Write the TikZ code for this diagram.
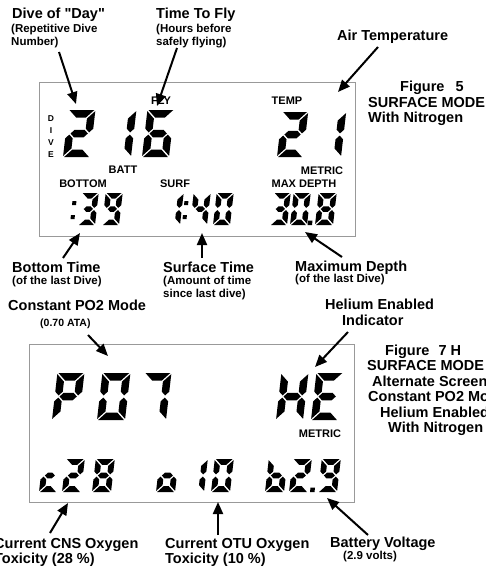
\documentclass[tikz,border=0pt]{standalone}
\usepackage{fontspec}
\setmainfont{Liberation Sans}[Ligatures=TeXOff]
\usetikzlibrary{arrows.meta}

% segments (local coordinates, y up): W width, H height, T thickness, h=T/2, m=H/2, G gap
\newcommand{\lcdsA}{\fill (\lcdG,\lcdH) -- (\lcdW-\lcdG,\lcdH) -- (\lcdW-\lcdT-\lcdG,\lcdH-\lcdT) -- (\lcdT+\lcdG,\lcdH-\lcdT) -- cycle;}
\newcommand{\lcdsD}{\fill (\lcdG,0) -- (\lcdW-\lcdG,0) -- (\lcdW-\lcdT-\lcdG,\lcdT) -- (\lcdT+\lcdG,\lcdT) -- cycle;}
\newcommand{\lcdsF}{\fill (0,\lcdH-\lcdG) -- (\lcdT,\lcdH-\lcdT-\lcdG) -- (\lcdT,\lcdM+\lcdh+\lcdG) -- (\lcdh,\lcdM+\lcdG) -- (0,\lcdM+\lcdh+\lcdG) -- cycle;}
\newcommand{\lcdsB}{\fill (\lcdW,\lcdH-\lcdG) -- (\lcdW-\lcdT,\lcdH-\lcdT-\lcdG) -- (\lcdW-\lcdT,\lcdM+\lcdh+\lcdG) -- (\lcdW-\lcdh,\lcdM+\lcdG) -- (\lcdW,\lcdM+\lcdh+\lcdG) -- cycle;}
\newcommand{\lcdsE}{\fill (0,\lcdG) -- (\lcdT,\lcdT+\lcdG) -- (\lcdT,\lcdM-\lcdh-\lcdG) -- (\lcdh,\lcdM-\lcdG) -- (0,\lcdM-\lcdh-\lcdG) -- cycle;}
\newcommand{\lcdsC}{\fill (\lcdW,\lcdG) -- (\lcdW-\lcdT,\lcdT+\lcdG) -- (\lcdW-\lcdT,\lcdM-\lcdh-\lcdG) -- (\lcdW-\lcdh,\lcdM-\lcdG) -- (\lcdW,\lcdM-\lcdh-\lcdG) -- cycle;}
\newcommand{\lcdsG}{\fill (\lcdh+\lcdG,\lcdM) -- (\lcdT+\lcdG,\lcdM+\lcdh) -- (\lcdW-\lcdT-\lcdG,\lcdM+\lcdh) -- (\lcdW-\lcdh-\lcdG,\lcdM) -- (\lcdW-\lcdT-\lcdG,\lcdM-\lcdh) -- (\lcdT+\lcdG,\lcdM-\lcdh) -- cycle;}
\newcommand{\lcdZero}{\lcdsA\lcdsB\lcdsC\lcdsD\lcdsE\lcdsF}
\newcommand{\lcdOne}{\lcdsB\lcdsC}
\newcommand{\lcdTwo}{\lcdsA\lcdsB\lcdsD\lcdsE\lcdsG}
\newcommand{\lcdThree}{\lcdsA\lcdsB\lcdsC\lcdsD\lcdsG}
\newcommand{\lcdFour}{\lcdsB\lcdsC\lcdsF\lcdsG}
\newcommand{\lcdSix}{\lcdsA\lcdsC\lcdsD\lcdsE\lcdsF\lcdsG}
\newcommand{\lcdSeven}{\lcdsA\lcdsB\lcdsC}
\newcommand{\lcdEight}{\lcdsA\lcdsB\lcdsC\lcdsD\lcdsE\lcdsF\lcdsG}
\newcommand{\lcdNine}{\lcdsA\lcdsB\lcdsC\lcdsD\lcdsF\lcdsG}
\newcommand{\lcdLetP}{\lcdsA\lcdsB\lcdsE\lcdsF\lcdsG}
\newcommand{\lcdLetH}{\lcdsB\lcdsC\lcdsE\lcdsF\lcdsG}
\newcommand{\lcdLetE}{\lcdsA\lcdsD\lcdsE\lcdsF\lcdsG}
\newcommand{\lcdLetc}{\lcdsD\lcdsE\lcdsG}
\newcommand{\lcdLeto}{\lcdsC\lcdsD\lcdsE\lcdsG}
\newcommand{\lcdLetb}{\lcdsC\lcdsD\lcdsE\lcdsF\lcdsG}
% #1 x (bottom-left), #2 y (baseline), #3 width, #4 height, #5 thickness, #6 segments
\newcommand{\lcddigit}[6]{%
 \begin{scope}[shift={(#1,#2)},xslant=0.115,yscale=-1]
 \pgfmathsetmacro\lcdW{#3}
 \pgfmathsetmacro\lcdH{#4}
 \pgfmathsetmacro\lcdT{#5}
 \pgfmathsetmacro\lcdh{#5/2}
 \pgfmathsetmacro\lcdM{#4/2}
 \def\lcdG{1.1}
 #6
 \end{scope}}
\newcommand{\lcddot}[3]{%
 \begin{scope}[shift={(#1,#2)},xslant=0.115,yscale=-1]
 \fill (0,0) rectangle (#3,#3);
 \end{scope}}

\begin{document}
\begin{tikzpicture}[x=1pt,y=-1pt,
  lbl/.style={font=\fontsize{14.5}{15}\selectfont\bfseries, inner sep=0pt, anchor=base west},
  sub/.style={font=\fontsize{11.5}{12}\selectfont\bfseries, inner sep=0pt, anchor=base west},
  smallsub/.style={font=\fontsize{10.5}{11}\selectfont\bfseries, inner sep=0pt, anchor=base west},
  lcdlbl/.style={font=\fontsize{11}{11}\selectfont\bfseries, inner sep=0pt, anchor=base},
  divelbl/.style={font=\fontsize{8.5}{9}\selectfont\bfseries, inner sep=0pt, anchor=base},
  arr/.style={line width=2pt, -{Triangle[length=12pt,width=10pt]}},
  lcdbox/.style={draw=black!40, line width=1pt}]
\useasboundingbox (0,0) rectangle (485,568);
\clip (0,0) rectangle (485,568);
\fill[white] (0,0) rectangle (485,568);

% LCD frames
\draw[lcdbox] (39,82) rectangle (355,236);
\draw[lcdbox] (29,344) rectangle (354,502);

% ---- Figure 5 display ----
\node[lcdlbl] (lfly) at (161,104) {FLY};
\node[lcdlbl] (ltemp) at (287,104) {TEMP};
\node[divelbl] (ld) at (51,121) {D};
\node[divelbl] (li) at (51,133) {I};
\node[divelbl] (lv) at (51,145) {V};
\node[divelbl] (le) at (51,157) {E};
\node[lcdlbl] (lbatt) at (123,173) {BATT};
\node[lcdlbl] (lbot) at (83,187) {BOTTOM};
\node[lcdlbl] (lsurf) at (175,187) {SURF};
\node[lcdlbl] (lmet) at (322,174) {METRIC};
\node[lcdlbl] (lmax) at (304,187) {MAX DEPTH};

\lcddigit{63}{157}{27}{47}{7.5}{\lcdTwo}
\lcddigit{104}{157}{27}{47}{7.5}{\lcdOne}
\lcddigit{142}{157}{27}{47}{7.5}{\lcdSix}
\lcddigit{277}{157}{26}{45}{7.5}{\lcdTwo}
\lcddigit{315}{157}{26}{45}{7.5}{\lcdOne}

\lcddot{70.5}{219}{4}
\lcddot{72}{205}{4}
\lcddigit{78}{225}{17}{32}{5.5}{\lcdThree}
\lcddigit{102}{225}{17}{32}{5.5}{\lcdNine}
\lcddigit{163}{225}{17}{32}{5.5}{\lcdOne}
\lcddot{182.5}{219}{4}
\lcddot{184}{205}{4}
\lcddigit{190}{225}{17}{32}{5.5}{\lcdFour}
\lcddigit{213}{225}{17}{32}{5.5}{\lcdZero}
\lcddigit{270}{225}{17}{32}{5.5}{\lcdThree}
\lcddigit{290}{225}{17}{32}{5.5}{\lcdZero}
\lcddot{307.5}{225}{4.5}
\lcddigit{315}{225}{18}{32}{5.5}{\lcdEight}

% ---- Figure 7 H display ----
\node[lcdlbl] (lmet2) at (320,437) {METRIC};
\lcddigit{52}{420}{27}{47}{7.5}{\lcdLetP}
\lcddigit{97}{420}{28}{47}{7.5}{\lcdZero}
\lcddigit{139}{420}{27}{47}{7.5}{\lcdSeven}
\lcddigit{276}{420}{27}{47}{7.5}{\lcdLetH}
\lcddigit{311}{420}{27}{47}{7.5}{\lcdLetE}

\lcddigit{39}{492}{18}{33}{5.8}{\lcdLetc}
\lcddigit{62}{492}{19}{33}{5.8}{\lcdTwo}
\lcddigit{92}{492}{19}{33}{5.8}{\lcdEight}
\lcddigit{156}{492}{19}{33}{5.8}{\lcdLeto}
\lcddigit{185}{492}{19}{33}{5.8}{\lcdOne}
\lcddigit{211}{492}{19}{33}{5.8}{\lcdZero}
\lcddigit{265}{492}{19}{33}{5.8}{\lcdLetb}
\lcddigit{289}{492}{19}{33}{5.8}{\lcdTwo}
\lcddot{310}{492}{4.5}
\lcddigit{318}{492}{19}{33}{5.8}{\lcdNine}

% ---- Labels, top ----
\node[lbl] (dive) at (12,18) {Dive of "Day"};
\node[sub] (dive1) at (11,32) {(Repetitive Dive};
\node[sub] (dive2) at (11,45) {Number)};
\node[lbl] (ttf) at (156,18) {Time To Fly};
\node[sub] (ttf1) at (156,32) {(Hours before};
\node[sub] (ttf2) at (156,45) {safely flying)};
\node[lbl] (air) at (337,40) {Air Temperature};
\node[lbl] (fiveA) at (400,91) {Figure\kern11pt 5};
\node[lbl] (fiveB) at (368,107) {SURFACE MODE};
\node[lbl] (fiveC) at (368,122) {With Nitrogen};

% ---- Labels, middle ----
\node[lbl] (bt) at (12,272) {Bottom Time};
\node[sub] (bt1) at (12,284) {(of the last Dive)};
\node[lbl] (st) at (163,272) {Surface Time};
\node[sub] (st1) at (163,284) {(Amount of time};
\node[sub] (st2) at (163,297) {since last dive)};
\node[lbl] (md) at (295,271) {Maximum Depth};
\node[sub] (md1) at (295,282) {(of the last Dive)};

\node[lbl] (cpo) at (8,310) {Constant PO2 Mode};
\node[smallsub] (cpo1) at (40,326) {(0.70 ATA)};
\node[lbl] (hei) at (325,309) {Helium Enabled};
\node[lbl] (hei1) at (342,325) {Indicator};
\node[lbl] (sevA) at (385,355) {Figure\kern9pt 7 H};
\node[lbl] (sevB) at (367,370) {SURFACE MODE};
\node[lbl] (sevC) at (372,386) {Alternate Screen};
\node[lbl] (sevD) at (368,401) {Constant PO2 Mode};
\node[lbl] (sevE) at (380,417) {Helium Enabled};
\node[lbl] (sevF) at (388,432) {With Nitrogen};

% ---- Labels, bottom ----
\node[lbl] (cns) at (-6,548) {Current CNS Oxygen};
\node[lbl] (cns1) at (-6,563) {Toxicity (28 \%)};
\node[lbl] (otu) at (165,548) {Current OTU Oxygen};
\node[lbl] (otu1) at (165,563) {Toxicity (10 \%)};
\node[lbl] (bat) at (330,547) {Battery Voltage};
\node[sub] (bat1) at (343,559) {(2.9 volts)};

% ---- Arrows ----
\coordinate (a1s) at (59,52);   \coordinate (a1e) at (76,104);
\coordinate (a2s) at (177,48);  \coordinate (a2e) at (157,106);
\coordinate (a3s) at (378,47);  \coordinate (a3e) at (338,92);
\coordinate (a4s) at (63,258);  \coordinate (a4e) at (80,233);
\coordinate (a5s) at (202,258); \coordinate (a5e) at (202,233);
\coordinate (a6s) at (342,257); \coordinate (a6e) at (305,232);
\coordinate (a7s) at (88,335);  \coordinate (a7e) at (108,356);
\coordinate (a8s) at (348,332); \coordinate (a8e) at (315,367);
\coordinate (a9s) at (50,533);  \coordinate (a9e) at (68,503);
\coordinate (a10s) at (218,535); \coordinate (a10e) at (218,502);
\coordinate (a11s) at (368,535); \coordinate (a11e) at (327,498);
\draw[arr] (a1s) -- (a1e);
\draw[arr] (a2s) -- (a2e);
\draw[arr] (a3s) -- (a3e);
\draw[arr] (a4s) -- (a4e);
\draw[arr] (a5s) -- (a5e);
\draw[arr] (a6s) -- (a6e);
\draw[arr] (a7s) -- (a7e);
\draw[arr] (a8s) -- (a8e);
\draw[arr] (a9s) -- (a9e);
\draw[arr] (a10s) -- (a10e);
\draw[arr] (a11s) -- (a11e);
\end{tikzpicture}
\end{document}
